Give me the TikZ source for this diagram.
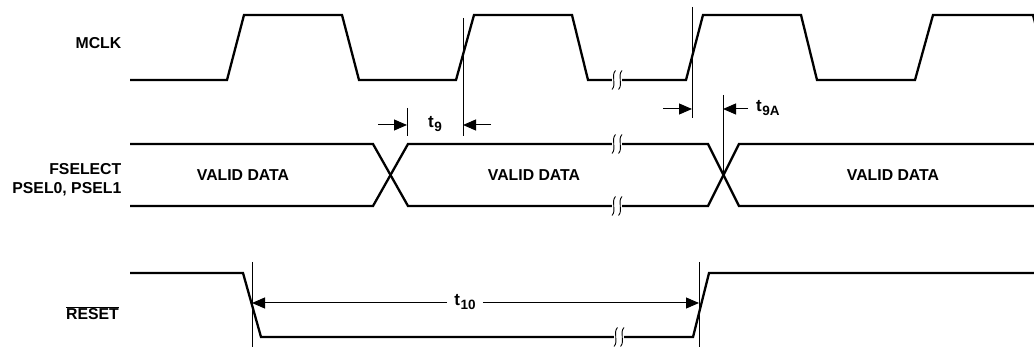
\documentclass[tikz,border=0pt]{standalone}
\usepackage{fontspec}
\setmainfont{Liberation Sans}
\usetikzlibrary{arrows.meta}
\newcommand\tsub[1]{{\fontsize{17}{17}\selectfont t\kern0.5pt\raisebox{-0.28em}{\fontsize{13.5}{13.5}\selectfont #1}}}
\tikzset{
  sig/.style={line width=2.3pt, line join=miter},
  refline/.style={line width=1pt},
  dimarrow/.style={line width=1pt, -{Triangle[length=13pt,width=11pt]}},
  lbl/.style={font=\fontsize{15.8}{19}\selectfont\bfseries, inner sep=0pt},
  brk/.pic={
    \fill[white] (-5,-1.7) rectangle (5,1.7);
    \draw[line width=0.9pt] (-1.5,-9.5) .. controls (-6.5,-4) and (0,4) .. (-5,9.5);
    \draw[line width=0.9pt] (5,-9.5) .. controls (0,-4) and (6.5,4) .. (1.5,9.5);
  }
}
\begin{document}
\begin{tikzpicture}[x=1pt,y=-1pt]
\useasboundingbox (0,0) rectangle (1034,347);
\clip (0,0) rectangle (1034,347);
% labels
\node[lbl, anchor=east] (lmclk) at (121.5,43) {MCLK};
\node[lbl, anchor=east, align=right] (lfsel) at (121.5,180) {FSELECT\\PSEL0, PSEL1};
\node[lbl, anchor=east] (lreset) at (119,313) {$\overline{\mbox{RESET}}$};
% MCLK
\draw[sig] (130,80) -- (227,80) -- (244,15) -- (342,15) -- (359,80) -- (456,80) -- (474,15) -- (572,15) -- (588,80) -- (686,80) -- (703,15) -- (801,15) -- (817,80) -- (915,80) -- (933,15) -- (1033,15) -- (1050,80);
\pic at (617,80) {brk};
% data
\draw[sig] (130,144) -- (373,144) -- (408,206) -- (708,206) -- (739,144) -- (1040,144);
\draw[sig] (130,206) -- (373,206) -- (408,144) -- (708,144) -- (739,206) -- (1040,206);
\pic at (617,144) {brk};
\pic at (617,206) {brk};
\node[lbl] (vd1) at (243,175) {VALID DATA};
\node[lbl] (vd2) at (534,175) {VALID DATA};
\node[lbl] (vd3) at (893,175) {VALID DATA};
% RESET
\draw[sig] (130,273) -- (243,273) -- (261,337) -- (693,337) -- (709,273) -- (1040,273);
\pic at (619,337) {brk};
% t9
\coordinate (a1) at (463,18);
\coordinate (a2) at (463,136);
\coordinate (b1) at (407,108);
\coordinate (b2) at (407,136);
\draw[refline] (a1) -- (a2);
\draw[refline] (b1) -- (b2);
\coordinate (b3) at (407,125);
\coordinate (a3) at (463,125);
\coordinate (b4) at (378,125);
\coordinate (a4) at (491,125);
\draw[dimarrow] (b4) -- (b3);
\draw[dimarrow] (a4) -- (a3);
\node[lbl] (t9) at (435,124) {\tsub{9}};
% t9A
\coordinate (c1) at (692,7);
\coordinate (c2) at (692,118);
\coordinate (d1) at (723,95);
\coordinate (d2) at (723,176);
\draw[refline] (c1) -- (c2);
\draw[refline] (d1) -- (d2);
\coordinate (c3) at (692,109);
\coordinate (c4) at (663,109);
\coordinate (d3) at (723,109);
\coordinate (d4) at (748,109);
\draw[dimarrow] (c4) -- (c3);
\draw[dimarrow] (d4) -- (d3);
\node[lbl, anchor=west] (t9a) at (756,108) {\tsub{9A}};
% t10
\coordinate (e1) at (252,262);
\coordinate (e2) at (252,347);
\coordinate (f1) at (699,262);
\coordinate (f2) at (699,347);
\draw[refline] (e1) -- (e2);
\draw[refline] (f1) -- (f2);
\coordinate (e3) at (252,303);
\coordinate (f3) at (699,303);
\node[lbl, inner xsep=7pt] (t10) at (465,302) {\tsub{10}};
\draw[dimarrow] (t10.west |- e3) -- (e3);
\draw[dimarrow] (t10.east |- f3) -- (f3);
\end{tikzpicture}
\end{document}
